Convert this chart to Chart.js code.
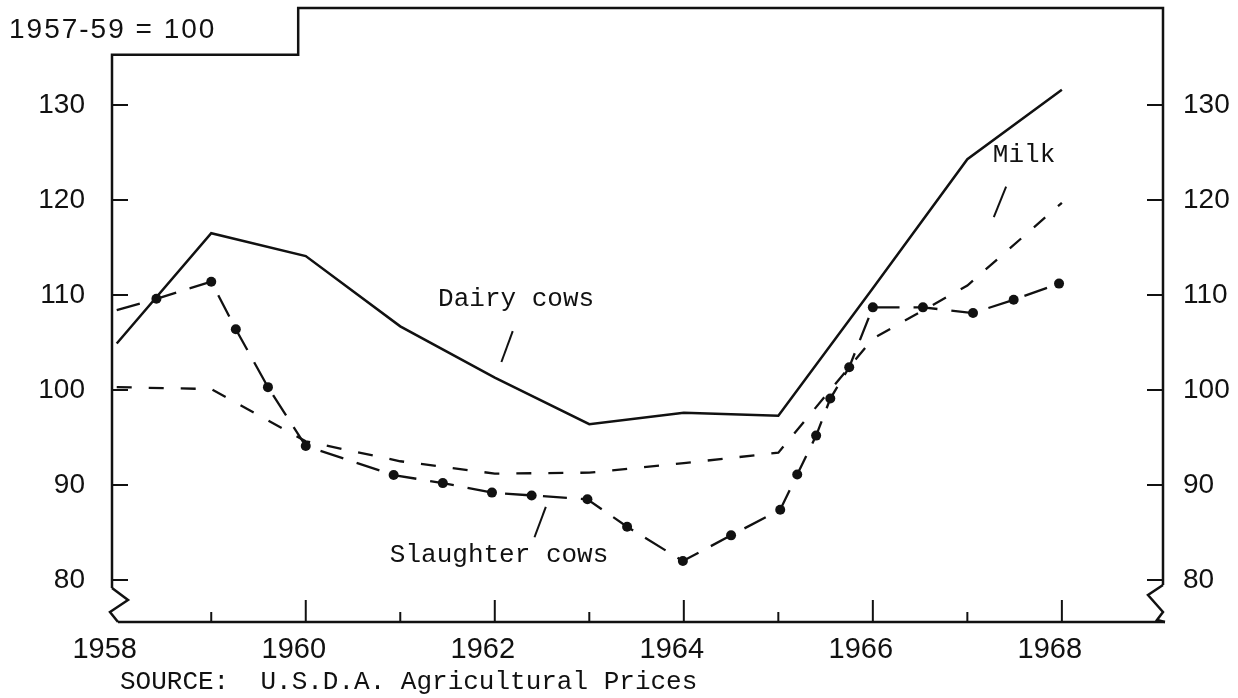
<!DOCTYPE html>
<html>
<head>
<meta charset="utf-8">
<script src="https://cdn.jsdelivr.net/npm/chart.js@4.4.1/dist/chart.umd.min.js"></script>
<style>
  body { margin: 0; background: #fff; }
  #wrap { width: 1238px; height: 698px; }
</style>
</head>
<body>
<div id="wrap"><canvas id="chart"></canvas></div>
<script>
// index values, 1957-59 = 100
const dairyYears = [1958, 1959, 1960, 1961, 1962, 1963, 1964, 1965, 1966, 1967, 1968];
const dairyValues = [104.9, 116.5, 114.1, 106.7, 101.3, 96.4, 97.6, 97.3, 110.7, 124.3, 131.6];

const milkYears = [1958, 1959, 1960, 1961, 1962, 1963, 1964, 1965, 1966, 1967, 1968];
const milkValues = [100.3, 100.1, 94.6, 92.5, 91.2, 91.3, 92.3, 93.4, 105.4, 111.0, 119.7];

const slaughterYears = [1958, 1958.42, 1959, 1959.26, 1959.6, 1960, 1960.93, 1961.45, 1961.97, 1962.39,
  1962.98, 1963.4, 1963.99, 1964.5, 1965.02, 1965.2, 1965.4, 1965.55, 1965.75, 1966,
  1966.53, 1967.06, 1967.49, 1967.97];
const slaughterValues = [108.4, 109.6, 111.4, 106.4, 100.3, 94.1, 91.05, 90.2, 89.2, 88.9,
  88.5, 85.6, 82.0, 84.7, 87.4, 91.1, 95.2, 99.1, 102.4, 108.7,
  108.7, 108.1, 109.5, 111.2];

const yTicks = [80, 90, 100, 110, 120, 130];
const xTicks = [1958, 1959, 1960, 1961, 1962, 1963, 1964, 1965, 1966, 1967, 1968];
const xLabels = ['1958', '', '1960', '', '1962', '', '1964', '', '1966', '', '1968'];

const indexNote = '1957-59 = 100';
const sourceNote = 'SOURCE:  U.S.D.A. Agricultural Prices';
// series labels: [text, x(year), y(value), leader from x,y, leader to x,y]
const seriesLabels = [
  ['Dairy cows', 1961.40, 109.6, 1962.19, 106.2, 1962.07, 102.95],
  ['Slaughter cows', 1960.89, 82.6, 1962.54, 87.7, 1962.42, 84.5],
  ['Milk', 1967.27, 124.7, 1967.41, 121.4, 1967.28, 118.2]
];

const X_MIN = 1957.95, X_MAX = 1969.07;
const Y_MIN = 75.58, Y_MAX = 140.21;
const LEFT_TOP = 135.3;     // top of the lower left part of the frame
const STEP_YEAR = 1959.92;  // where the frame steps up

const ink = '#111';
const mono = '"Liberation Mono", "DejaVu Sans Mono", monospace';
const sans = '"Liberation Sans", Arial, sans-serif';

const toPts = (xs, ys) => xs.map((x, i) => ({ x: x, y: ys[i] }));

const framePlugin = {
  id: 'frame',
  afterDraw(chart) {
    const ctx = chart.ctx;
    const xs = chart.scales.x, ys = chart.scales.y;
    const a = chart.chartArea;
    const L = a.left, R = a.right, B = a.bottom, T = a.top;
    const yl = ys.getPixelForValue(LEFT_TOP);
    const xs1 = xs.getPixelForValue(STEP_YEAR);
    ctx.save();
    ctx.strokeStyle = ink;
    ctx.lineWidth = 2.5;
    ctx.lineJoin = 'miter';
    // frame: left axis with break, stepped top, right axis with break
    ctx.beginPath();
    ctx.moveTo(L, B - 34);
    ctx.lineTo(L, yl);
    ctx.lineTo(xs1, yl);
    ctx.lineTo(xs1, T);
    ctx.lineTo(R, T);
    ctx.lineTo(R, B - 37);
    ctx.stroke();
    // left break
    ctx.beginPath();
    ctx.moveTo(L, B - 34);
    ctx.lineTo(L + 16, B - 22);
    ctx.lineTo(L - 2, B - 10);
    ctx.lineTo(L + 6, B);
    ctx.stroke();
    // right break
    ctx.beginPath();
    ctx.moveTo(R, B - 37);
    ctx.lineTo(R - 15, B - 27);
    ctx.lineTo(R, B - 10);
    ctx.lineTo(R - 6, B - 2);
    ctx.lineTo(R + 2, B);
    ctx.stroke();
    // x axis
    ctx.beginPath();
    ctx.moveTo(L + 6, B);
    ctx.lineTo(R + 2, B);
    ctx.stroke();

    // tick marks inside the frame
    ctx.lineWidth = 2;
    yTicks.forEach(v => {
      const py = ys.getPixelForValue(v);
      ctx.beginPath();
      ctx.moveTo(L, py); ctx.lineTo(L + 16, py);
      ctx.moveTo(R, py); ctx.lineTo(R - 16, py);
      ctx.stroke();
    });
    xTicks.forEach((v, i) => {
      if (v === 1958) return;
      const px = xs.getPixelForValue(v);
      ctx.beginPath();
      ctx.moveTo(px, B);
      ctx.lineTo(px, B - (xLabels[i] ? 22 : 10));
      ctx.stroke();
    });

    // series labels and leader lines
    ctx.fillStyle = ink;
    ctx.font = '26px ' + mono;
    ctx.textBaseline = 'middle';
    ctx.textAlign = 'left';
    seriesLabels.forEach(s => {
      ctx.fillText(s[0], xs.getPixelForValue(s[1]), ys.getPixelForValue(s[2]));
      ctx.beginPath();
      ctx.moveTo(xs.getPixelForValue(s[3]), ys.getPixelForValue(s[4]));
      ctx.lineTo(xs.getPixelForValue(s[5]), ys.getPixelForValue(s[6]));
      ctx.stroke();
    });

    // index note and source
    ctx.font = '28px ' + sans;
    ctx.letterSpacing = '2px';
    ctx.fillText(indexNote, 9, 30);
    ctx.letterSpacing = '0px';
    ctx.font = '26px ' + mono;
    ctx.fillText(sourceNote, 120, 682);
    ctx.restore();
  }
};

const setYTicks = axis => { axis.ticks = yTicks.map(v => ({ value: v })); };
const fitY = w => axis => { axis.width = w; axis.paddingTop = 0; axis.paddingBottom = 0; };

new Chart(document.getElementById('chart'), {
  type: 'line',
  data: {
    datasets: [
      {
        label: 'Dairy cows',
        data: toPts(dairyYears, dairyValues),
        borderColor: ink,
        borderWidth: 2.5,
        pointRadius: 0,
        tension: 0
      },
      {
        label: 'Milk',
        data: toPts(milkYears, milkValues),
        borderColor: ink,
        borderWidth: 2.3,
        borderDash: [15, 17],
        pointRadius: 0,
        tension: 0
      },
      {
        label: 'Slaughter cows',
        data: toPts(slaughterYears, slaughterValues),
        borderColor: ink,
        borderWidth: 2.3,
        borderDash: [24, 14],
        pointRadius: slaughterYears.map((y, i) => i === 0 ? 0 : 5),
        pointBackgroundColor: ink,
        pointBorderWidth: 0,
        tension: 0
      }
    ]
  },
  options: {
    responsive: true,
    maintainAspectRatio: false,
    animation: false,
    layout: { padding: { top: 8, right: 0, left: 0, bottom: 0 } },
    plugins: {
      legend: { display: false },
      tooltip: { enabled: false }
    },
    scales: {
      x: {
        type: 'linear',
        min: X_MIN,
        max: X_MAX,
        afterBuildTicks: axis => { axis.ticks = xTicks.map(v => ({ value: v })); },
        afterFit: axis => { axis.height = 76; axis.paddingLeft = 0; axis.paddingRight = 0; },
        grid: { display: false, drawTicks: false },
        border: { display: false },
        ticks: {
          autoSkip: false,
          maxRotation: 0,
          padding: 11,
          labelOffset: -12,
          color: ink,
          font: { family: sans, size: 29 },
          callback: (v) => { const i = xTicks.indexOf(v); return i >= 0 ? xLabels[i] : ''; }
        }
      },
      y: {
        position: 'left',
        min: Y_MIN,
        max: Y_MAX,
        afterBuildTicks: setYTicks,
        afterFit: fitY(112),
        grid: { display: false, drawTicks: false },
        border: { display: false },
        ticks: {
          padding: 27,
          color: ink,
          font: { family: sans, size: 28 }
        }
      },
      y2: {
        position: 'right',
        min: Y_MIN,
        max: Y_MAX,
        afterBuildTicks: setYTicks,
        afterFit: fitY(75),
        grid: { display: false, drawTicks: false },
        border: { display: false },
        ticks: {
          padding: 20,
          color: ink,
          font: { family: sans, size: 28 }
        }
      }
    }
  },
  plugins: [framePlugin]
});
</script>
</body>
</html>
